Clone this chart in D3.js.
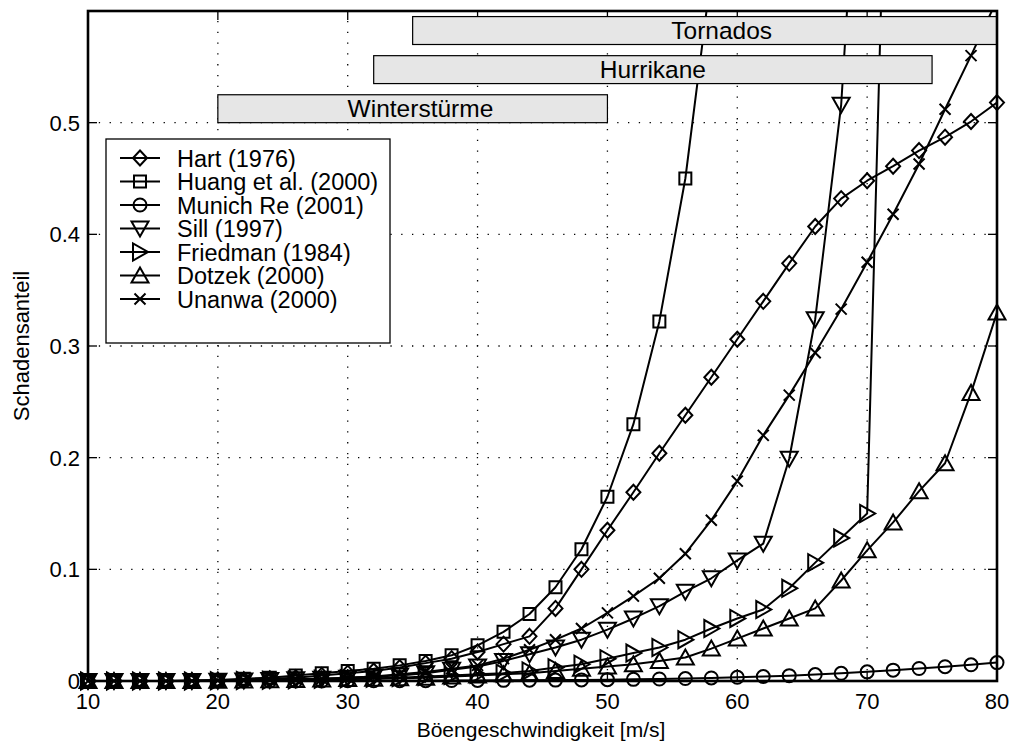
<!DOCTYPE html>
<html>
<head>
<meta charset="utf-8">
<script src="https://cdn.jsdelivr.net/npm/d3@7"></script>
<style>
  html, body { margin: 0; padding: 0; background: #fff; }
  svg { display: block; font-family: "Liberation Sans", Arial, Helvetica, sans-serif; }
</style>
</head>
<body>
<svg id="chart" width="1012" height="744"></svg>
<script>
// Gust speeds (m/s) at which every damage curve is evaluated
const speeds = [10,12,14,16,18,20,22,24,26,28,30,32,34,36,38,40,42,44,46,48,50,52,54,56,58,60,62,64,66,68,70,72,74,76,78,80];

// Damage ratio per curve (null = not defined)
const hart = [0,0,0,0,0.0003,0.0006,0.001,0.002,0.003,0.005,0.007,0.009,0.012,0.016,0.020,0.026,0.033,0.040,0.065,0.100,0.135,0.169,0.204,0.238,0.272,0.306,0.340,0.374,0.407,0.432,0.448,0.461,0.475,0.487,0.501,0.518];
const huang = [0,0,0,0,0.0005,0.001,0.002,0.003,0.005,0.007,0.009,0.011,0.014,0.018,0.023,0.032,0.044,0.060,0.084,0.118,0.165,0.230,0.322,0.450,0.634,null,null,null,null,null,null,null,null,null,null,null];
const munichRe = [0,0,0,0,0,0,0,0,0,0,0.0002,0.0002,0.0003,0.0003,0.0004,0.0005,0.0006,0.0007,0.0008,0.001,0.0012,0.0015,0.0018,0.0022,0.0027,0.0033,0.004,0.0048,0.0058,0.0069,0.0082,0.0097,0.0112,0.0128,0.0145,0.0165];
const sill = [0,0,0,0,0,0.0003,0.0005,0.001,0.0015,0.002,0.003,0.004,0.005,0.007,0.010,0.013,0.018,0.024,0.030,0.037,0.046,0.056,0.067,0.080,0.092,0.108,0.123,0.199,0.324,0.516,0.89,null,null,null,null,null];
const friedman = [0,0,0,0,0,0.0002,0.0004,0.0006,0.001,0.0015,0.002,0.0025,0.003,0.004,0.005,0.006,0.007,0.009,0.012,0.015,0.020,0.025,0.030,0.037,0.047,0.056,0.064,0.083,0.106,0.128,0.150,1.0,null,null,null,null];
const dotzek = [0,0,0,0,0,0.0002,0.0004,0.0006,0.001,0.0013,0.0017,0.002,0.0025,0.003,0.004,0.005,0.006,0.007,0.009,0.011,0.013,0.015,0.018,0.021,0.029,0.038,0.047,0.056,0.065,0.090,0.117,0.142,0.170,0.195,0.258,0.330];
const unanwa = [0,0,0,0,0,0.0003,0.0005,0.001,0.0015,0.002,0.003,0.004,0.006,0.008,0.011,0.014,0.020,0.028,0.037,0.047,0.061,0.076,0.092,0.114,0.144,0.179,0.220,0.256,0.294,0.333,0.375,0.418,0.463,0.512,0.560,0.610];

const seriesNames = ["Hart (1976)","Huang et al. (2000)","Munich Re (2001)","Sill (1997)","Friedman (1984)","Dotzek (2000)","Unanwa (2000)"];
const seriesMarkers = ["diamond","square","circle","triDown","triRight","triUp","cross"];

// Storm-type ranges (gust speed span) shown as labelled bands
const bandLabels = ["Tornados","Hurrikane","Winterstürme"];
const bandFrom = [35,32,20];
const bandTo = [80,75,50];
const bandLow = [0.570,0.535,0.500];
const bandHigh = [0.595,0.560,0.525];
const bandTextAt = [58.8,53.5,35.6];

const xTicks = [10,20,30,40,50,60,70,80];
const yTicks = [0,0.1,0.2,0.3,0.4,0.5];
const yTickLabels = ["0","0.1","0.2","0.3","0.4","0.5"];

const table = [hart, huang, munichRe, sill, friedman, dotzek, unanwa];

const svg = d3.select("#chart");
const TICK_FONT = 22, LEGEND_FONT = 23.5, BAND_FONT = 24.5, LABEL_FONT = 21;
const x = d3.scaleLinear().domain([10, 80]).range([88, 997]);
const y = d3.scaleLinear().domain([0, 0.6]).range([681, 11]);
const [x0, x1] = x.range();
const [yb, yt] = y.range();

svg.append("defs").append("clipPath").attr("id", "plotClip")
  .append("rect").attr("x", x0).attr("y", yt).attr("width", x1 - x0).attr("height", yb - yt);

// dotted grid
const grid = svg.append("g").attr("stroke", "#000").attr("stroke-width", 1.3)
  .attr("stroke-dasharray", "1.3,9.5").attr("fill", "none");
xTicks.slice(1, -1).forEach(t => grid.append("line")
  .attr("x1", x(t)).attr("x2", x(t)).attr("y1", yb).attr("y2", yt));
yTicks.slice(1).forEach(t => grid.append("line")
  .attr("x1", x0).attr("x2", x1).attr("y1", y(t)).attr("y2", y(t)));

// inward ticks on all four sides
const tickLen = 9;
const ticks = svg.append("g").attr("stroke", "#000").attr("stroke-width", 1.3);
xTicks.forEach(t => {
  ticks.append("line").attr("x1", x(t)).attr("x2", x(t)).attr("y1", yb).attr("y2", yb - tickLen);
  ticks.append("line").attr("x1", x(t)).attr("x2", x(t)).attr("y1", yt).attr("y2", yt + tickLen);
});
yTicks.forEach(t => {
  ticks.append("line").attr("x1", x0).attr("x2", x0 + tickLen).attr("y1", y(t)).attr("y2", y(t));
  ticks.append("line").attr("x1", x1).attr("x2", x1 - tickLen).attr("y1", y(t)).attr("y2", y(t));
});

// marker shapes
function markerPath(kind) {
  switch (kind) {
    case "diamond": return "M0,-7.5L7,0L0,7.5L-7,0Z";
    case "square": return "M-6,-6H6V6H-6Z";
    case "circle": return "M6.5,0A6.5,6.5 0 1,1 -6.5,0A6.5,6.5 0 1,1 6.5,0Z";
    case "triDown": return "M-8.5,-7L8.5,-7L0,8Z";
    case "triUp": return "M-8.5,7L8.5,7L0,-8Z";
    case "triRight": return "M-7,-8.5L-7,8.5L8,0Z";
    case "cross": return "M-5.5,-5.5L5.5,5.5M-5.5,5.5L5.5,-5.5";
  }
}

const line = d3.line().defined(d => d.v !== null).x(d => x(d.s)).y(d => y(d.v));
const dataG = svg.append("g");
table.forEach((vals, i) => {
  const pts = speeds.map((s, k) => ({ s, v: vals[k] }));
  dataG.append("path").datum(pts).attr("d", line)
    .attr("clip-path", "url(#plotClip)")
    .attr("fill", "none").attr("stroke", "#000").attr("stroke-width", 2).attr("stroke-linejoin", "round");
  dataG.append("g").selectAll("path")
    .data(pts.filter(p => p.v !== null && p.v <= y.domain()[1]))
    .join("path")
    .attr("transform", p => `translate(${x(p.s)},${y(p.v)})`)
    .attr("d", markerPath(seriesMarkers[i]))
    .attr("fill", "none").attr("stroke", "#000").attr("stroke-width", 2);
});

// storm-type bands
const bands = svg.append("g");
bandLabels.forEach((lab, i) => {
  bands.append("rect")
    .attr("x", x(bandFrom[i])).attr("y", y(bandHigh[i]))
    .attr("width", x(bandTo[i]) - x(bandFrom[i]))
    .attr("height", y(bandLow[i]) - y(bandHigh[i]))
    .attr("fill", "#e6e6e6").attr("stroke", "#000").attr("stroke-width", 1.2);
  bands.append("text")
    .attr("x", x(bandTextAt[i])).attr("y", (y(bandLow[i]) + y(bandHigh[i])) / 2 + 8)
    .attr("text-anchor", "middle")
    .attr("font-size", BAND_FONT).text(lab);
});

// axes frame
svg.append("rect").attr("x", x0).attr("y", yt).attr("width", x1 - x0).attr("height", yb - yt)
  .attr("fill", "none").attr("stroke", "#000").attr("stroke-width", 2.6);

// tick labels
const labels = svg.append("g").attr("font-size", TICK_FONT).attr("fill", "#000");
xTicks.forEach(t => labels.append("text").attr("x", x(t)).attr("y", yb + 28)
  .attr("text-anchor", "middle").text(t));
yTicks.forEach((t, i) => labels.append("text").attr("x", x0 - 8).attr("y", y(t) + 8)
  .attr("text-anchor", "end").text(yTickLabels[i]));

svg.append("text").attr("x", 541).attr("y", 737).attr("text-anchor", "middle")
  .attr("font-size", LABEL_FONT).text("Böengeschwindigkeit [m/s]");
svg.append("text").attr("transform", `translate(29,${(yb + yt) / 2}) rotate(-90)`)
  .attr("text-anchor", "middle").attr("font-size", TICK_FONT).text("Schadensanteil");

// legend
const lg = svg.append("g");
lg.append("rect").attr("x", 106).attr("y", 139).attr("width", 284).attr("height", 204)
  .attr("fill", "#fff").attr("stroke", "#000").attr("stroke-width", 1.3);
seriesNames.forEach((name, i) => {
  const cy = 158 + i * 23.5;
  lg.append("line").attr("x1", 120).attr("x2", 160).attr("y1", cy).attr("y2", cy)
    .attr("stroke", "#000").attr("stroke-width", 2);
  lg.append("path").attr("transform", `translate(140,${cy})`).attr("d", markerPath(seriesMarkers[i]))
    .attr("fill", "none").attr("stroke", "#000").attr("stroke-width", 2);
  lg.append("text").attr("x", 177).attr("y", cy + 8.5).attr("font-size", LEGEND_FONT).text(name);
});
</script>
</body>
</html>
